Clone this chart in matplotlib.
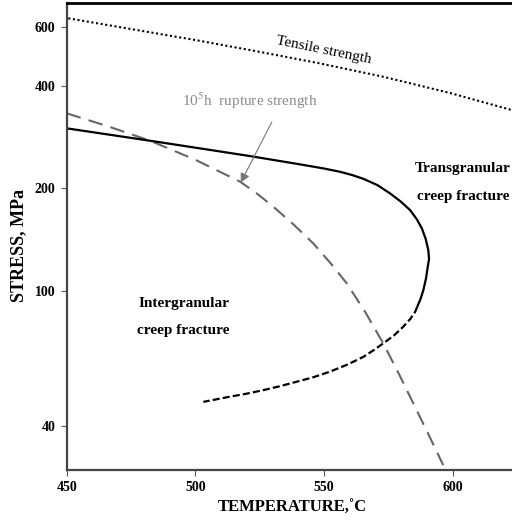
import matplotlib
matplotlib.use("Agg")
import matplotlib.pyplot as plt

plt.rcParams["font.family"] = ["Liberation Serif", "DejaVu Serif"]
plt.rcParams["mathtext.fontset"] = "stix"

# Tensile strength (dotted)
tensile_temp = [450.6, 475.0, 500.0, 521.2, 548.0, 573.0, 599.0, 622.9]
tensile_stress = [634.6, 590.0, 547.6, 511.7, 468.0, 426.9, 382.2, 340.6]

# 10^5 h rupture strength (grey dashed)
rupture_temp = [450.0, 466.0, 482.4, 500.0, 517.4, 524.0, 530.3, 538.0,
                545.8, 552.5, 558.8, 566.0, 573.0, 579.0, 584.7, 590.5, 596.3]
rupture_stress = [333.0, 305.0, 276.5, 243.0, 209.4, 193.0, 176.7, 157.0,
                  137.8, 120.5, 105.1, 86.5, 69.9, 57.0, 46.5, 37.8, 30.6]

# fracture-mode boundary, solid part
boundary_temp = [450.0, 482.4, 500.0, 521.2, 540.0, 550.0, 556.2, 561.0,
                 565.3, 570.8, 575.6, 579.8, 583.4, 586.0, 588.0, 589.5,
                 590.5, 590.8, 590.3, 589.6, 588.6, 587.5, 586.2]
boundary_stress = [300.8, 276.5, 263.8, 249.2, 236.0, 229.0, 224.0, 219.0,
                   213.5, 204.5, 193.5, 183.0, 172.8, 162.5, 152.6, 142.0,
                   131.7, 124.0, 117.6, 108.5, 100.4, 94.5, 89.6]

# fracture-mode boundary, dashed (extrapolated) part
boundary_ext_temp = [586.2, 585.4, 583.5, 580.8, 577.2, 573.0, 569.2, 565.3,
                     559.0, 552.3, 546.0, 539.4, 533.0, 526.4, 520.0, 513.5,
                     503.1]
boundary_ext_stress = [89.6, 86.6, 82.5, 78.3, 73.8, 69.9, 66.7, 63.8,
                       60.5, 57.7, 55.6, 53.9, 52.3, 50.9, 49.7, 48.7, 47.0]

x_ticks = [450, 500, 550, 600]
y_ticks = [40, 100, 200, 400, 600]

fig = plt.figure(figsize=(5.12, 5.22), dpi=100)
ax = fig.add_axes([0.1303, 0.0996, 0.8796, 0.8946])

ax.plot(tensile_temp, tensile_stress, color="black", lw=1.5,
        linestyle=(0, (1, 1.25)))
ax.plot(rupture_temp, rupture_stress, color="#666666", lw=1.5,
        linestyle=(0, (7, 4)))
ax.plot(boundary_temp, boundary_stress, color="black", lw=1.6,
        solid_capstyle="butt", solid_joinstyle="round")
ax.plot(boundary_ext_temp, boundary_ext_stress, color="black", lw=1.6,
        linestyle=(0, (3.2, 1.4)))

ax.set_yscale("log")
ax.set_xlim(450, 625)
ax.set_ylim(29.6, 704)
ax.set_xticks(x_ticks)
ax.set_xticklabels([str(v) for v in x_ticks], fontweight="bold", fontsize=10)
ax.set_yticks(y_ticks)
ax.set_yticklabels([str(v) for v in y_ticks], fontweight="bold", fontsize=10)
ax.yaxis.set_minor_locator(matplotlib.ticker.NullLocator())
ax.tick_params(axis="both", direction="out", length=4, width=0.8,
               color="#555555", pad=4)

ax.spines["top"].set_color("black")
ax.spines["top"].set_linewidth(2)
ax.spines["right"].set_visible(False)
for side in ("left", "bottom"):
    ax.spines[side].set_color("#444444")
    ax.spines[side].set_linewidth(1.6)

# labels on the curves and regions
ax.text(550, 510, "Tensile strength", fontsize=11, rotation=-11.5,
        ha="center", va="center")
ax.text(521, 363, "10$^5$h  rupture strength", fontsize=11,
        color="#8a8a8a", ha="center", va="center")
ax.annotate("", xy=(517.6, 208), xytext=(529.7, 314),
            arrowprops=dict(arrowstyle="-|>", color="#777777", lw=0.8,
                            mutation_scale=14, shrinkA=0, shrinkB=0))
ax.text(495.4, 91.7, "Intergranular", fontsize=11, fontweight="bold",
        ha="center", va="center")
ax.text(495.4, 76.5, "creep fracture", fontsize=11, fontweight="bold",
        ha="center", va="center")
ax.text(585.4, 229, "Transgranular", fontsize=11, fontweight="bold",
        ha="left", va="center")
ax.text(586.2, 189, "creep fracture", fontsize=11, fontweight="bold",
        ha="left", va="center")

fig.text(292.5 / 512, 1 - 508.3 / 522, "TEMPERATURE,\u02daC", fontsize=12,
         fontweight="bold", ha="center", va="center")
fig.text(18.3 / 512, 1 - 245.5 / 522, "STRESS, MPa", fontsize=13,
         fontweight="bold", rotation=90, ha="center", va="center")

fig.savefig("out.png", dpi=100)
